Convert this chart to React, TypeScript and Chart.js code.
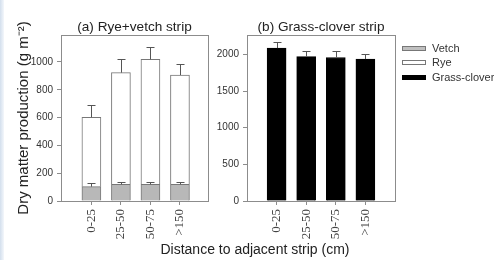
import React, { useEffect, useRef } from 'react';
import { Chart, registerables } from 'chart.js';

Chart.register(...registerables);

const distances = ['0-25', '25-50', '50-75', '>150'];
const vetch = [103, 120, 120, 120];
const vetchErr = [24, 15, 15, 15];
const rye = [499, 803, 899, 786];
const ryeErr = [86, 96, 87, 77];
const grassClover = [2086, 1971, 1958, 1936];
const grassCloverErr = [77, 69, 82, 72];
const leftTicks = [0, 200, 400, 600, 800, 1000];
const rightTicks = [0, 500, 1000, 1500, 2000];

const SANS = "'Liberation Sans', Arial, sans-serif";
const SERIF = "'Liberation Serif', 'Times New Roman', serif";

const errorBarPlugin = {
  id: 'errorBars',
  afterDatasetsDraw(chart: any) {
    const ctx = chart.ctx;
    const y = chart.scales.y;
    chart.data.datasets.forEach((ds: any, di: number) => {
      const errs = ds.errors;
      if (!errs) return;
      const meta = chart.getDatasetMeta(di);
      meta.data.forEach((el: any, i: number) => {
        const len = y.getPixelForValue(0) - y.getPixelForValue(errs[i]);
        const x = Math.round(el.x) + 0.5;
        const y0 = el.y;
        const y1 = Math.round(el.y - len) + 0.5;
        ctx.save();
        ctx.strokeStyle = '#555';
        ctx.lineWidth = 1;
        ctx.beginPath();
        ctx.moveTo(x, y0);
        ctx.lineTo(x, y1);
        ctx.moveTo(x - 4, y1);
        ctx.lineTo(x + 4, y1);
        ctx.stroke();
        ctx.restore();
      });
    });
  },
};

const framePlugin = {
  id: 'frame',
  afterDraw(chart: any) {
    const { ctx, chartArea } = chart;
    const { left, top, right, bottom } = chartArea;
    ctx.save();
    ctx.strokeStyle = '#8c8c8c';
    ctx.lineWidth = 1;
    ctx.strokeRect(Math.round(left) + 0.5, Math.round(top) + 0.5, Math.round(right - left), Math.round(bottom - top));
    const t = chart.options.plugins.panelTitle?.text;
    if (t) {
      ctx.fillStyle = '#222';
      ctx.font = `13.6px ${SANS}`;
      ctx.textAlign = 'center';
      ctx.textBaseline = 'middle';
      ctx.fillText(t, (left + right) / 2, 27);
    }
    ctx.restore();
  },
};

function xScale(min: number, max: number) {
  return {
    type: 'linear',
    min,
    max,
    offset: false,
    stacked: true,
    afterBuildTicks: (s: any) => {
      s.ticks = distances.map((_, i) => ({ value: i }));
    },
    afterFit: (s: any) => {
      s.height = 59;
    },
    ticks: {
      callback: (v: any) => distances[v],
      minRotation: 90,
      maxRotation: 90,
      autoSkip: false,
      padding: 4,
      color: '#444',
      font: { family: SERIF, size: 13 },
    },
    grid: { display: true, offset: false, drawOnChartArea: false, tickLength: 4, color: '#8c8c8c' },
    border: { display: true, color: '#8c8c8c' },
  };
}

function yScale(max: number, ticks: number[], width: number, withTitle: boolean) {
  return {
    type: 'linear',
    min: 0,
    max,
    stacked: true,
    afterBuildTicks: (s: any) => {
      s.ticks = ticks.map((v) => ({ value: v }));
    },
    afterFit: (s: any) => {
      s.width = width;
    },
    ticks: {
      callback: (v: any) => String(v),
      padding: 4,
      color: '#333',
      font: { family: SANS, size: 10 },
    },
    grid: { display: true, drawOnChartArea: false, tickLength: 4, color: '#8c8c8c' },
    border: { display: true, color: '#8c8c8c' },
    title: {
      display: withTitle,
      text: 'Dry matter production (g m\u207B\u00B2)',
      color: '#222',
      font: { family: SANS, size: 15 },
      padding: { top: 15, bottom: 0 },
    },
  };
}

export default function App() {
  const refA = useRef<HTMLCanvasElement>(null);
  const refB = useRef<HTMLCanvasElement>(null);

  useEffect(() => {
    const common = {
      responsive: false,
      animation: false,
      events: [],
    };
    const chartA = new Chart(refA.current as HTMLCanvasElement, {
      type: 'bar',
      data: {
        datasets: [
          {
            label: 'Vetch',
            data: vetch.map((v, i) => ({ x: i, y: v })),
            backgroundColor: '#b8b8b8',
            borderColor: '#777',
            borderWidth: 1,
            barThickness: 19,
            errors: vetchErr,
          } as any,
          {
            label: 'Rye',
            data: rye.map((v, i) => ({ x: i, y: v })),
            backgroundColor: '#ffffff',
            borderColor: '#777',
            borderWidth: 1,
            barThickness: 19,
            errors: ryeErr,
          } as any,
        ],
      },
      options: {
        ...common,
        layout: { padding: { top: 35, right: 7, left: 0, bottom: 0 } },
        scales: {
          x: xScale(-1.03, 3.95),
          y: yScale(1194, leftTicks, 61, true),
        } as any,
        plugins: {
          legend: { display: false },
          tooltip: { enabled: false },
          panelTitle: { text: '(a) Rye+vetch strip' },
        } as any,
      } as any,
      plugins: [errorBarPlugin, framePlugin],
    });
    const chartB = new Chart(refB.current as HTMLCanvasElement, {
      type: 'bar',
      data: {
        datasets: [
          {
            label: 'Grass-clover',
            data: grassClover.map((v, i) => ({ x: i, y: v })),
            backgroundColor: '#000000',
            borderColor: '#000000',
            borderWidth: 1,
            barThickness: 19,
            errors: grassCloverErr,
          } as any,
        ],
      },
      options: {
        ...common,
        layout: { padding: { top: 35, right: 99, left: 0, bottom: 0 } },
        scales: {
          x: xScale(-1, 4),
          y: yScale(2265, rightTicks, 42, false),
        } as any,
        plugins: {
          legend: { display: false },
          tooltip: { enabled: false },
          panelTitle: { text: '(b) Grass-clover strip' },
        } as any,
      } as any,
      plugins: [errorBarPlugin, framePlugin],
    });
    return () => {
      chartA.destroy();
      chartB.destroy();
    };
  }, []);

  const legendItems = [
    { label: 'Vetch', fill: '#c0c0c0', border: '#777', top: 46, h: 5, textTop: 42 },
    { label: 'Rye', fill: '#ffffff', border: '#777', top: 60, h: 5, textTop: 56 },
    { label: 'Grass-clover', fill: '#000000', border: '#000', top: 75, h: 5, textTop: 71 },
  ];

  return (
    <div style={{ position: 'fixed', left: 0, top: 0, width: 494, height: 260, background: '#fff', overflow: 'hidden' }}>
      <div style={{ position: 'absolute', left: 0, top: 0, width: 4, height: 260, background: 'linear-gradient(to right, #d3dfed, #f4f7fb)' }} />
      <canvas ref={refA} width={215} height={260} style={{ position: 'absolute', left: 0, top: 0, width: 215, height: 260 }} />
      <canvas ref={refB} width={289} height={260} style={{ position: 'absolute', left: 205, top: 0, width: 289, height: 260 }} />
      {legendItems.map((it) => (
        <React.Fragment key={it.label}>
          <div
            style={{
              position: 'absolute',
              left: 402,
              top: it.top,
              width: 24,
              height: it.h,
              boxSizing: 'border-box',
              background: it.fill,
              border: `1px solid ${it.border}`,
            }}
          />
          <div
            style={{
              position: 'absolute',
              left: 432,
              top: it.textTop,
              font: `11px ${SANS}`,
              lineHeight: '13px',
              color: '#333',
              whiteSpace: 'nowrap',
            }}
          >
            {it.label}
          </div>
        </React.Fragment>
      ))}
      <div
        style={{
          position: 'absolute',
          left: 135,
          width: 240,
          top: 241,
          textAlign: 'center',
          font: `14px ${SANS}`,
          lineHeight: '16px',
          color: '#222',
          whiteSpace: 'nowrap',
        }}
      >
        Distance to adjacent strip (cm)
      </div>
    </div>
  );
}
